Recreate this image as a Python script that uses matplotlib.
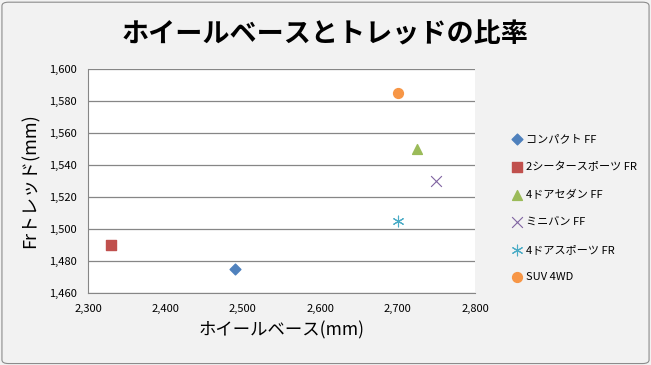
import matplotlib.pyplot as plt
from matplotlib.patches import FancyBboxPatch

plt.rcParams['font.family'] = ['Noto Sans CJK JP', 'DejaVu Sans']

names = ['コンパクト FF', '2シータースポーツ FR', '4ドアセダン FF', 'ミニバン FF', '4ドアスポーツ FR', 'SUV 4WD']
wheelbase = [2490, 2330, 2725, 2750, 2700, 2700]
tread = [1475, 1490, 1550, 1530, 1505, 1585]
markers = ['D', 's', '^', 'x', '*', 'o']
colors = ['#4F81BD', '#C0504D', '#9BBB59', '#8064A2', '#4BACC6', '#F79646']
sizes = [30, 55, 50, 60, 60, 50]

fig = plt.figure(figsize=(6.51, 3.65), dpi=100)
fig.patch.set_facecolor('#F2F2F2')
fig.patches.append(FancyBboxPatch((0.003, 0.004), 0.994, 0.99, boxstyle='round,pad=0,rounding_size=0.01',
                                  transform=fig.transFigure, facecolor='none', edgecolor='#8C8C8C', lw=0.8))

ax = fig.add_axes([88 / 651, 1 - 293 / 365, 387 / 651, 224 / 365])
ax.set_facecolor('white')

for n, x, y, m, c, s in zip(names, wheelbase, tread, markers, colors, sizes):
    if m in ('x', '*'):
        mm = 'x' if m == 'x' else (6, 2, 0)
        ax.scatter(x, y, marker=mm, s=s, color=c, linewidths=0.8, label=n, zorder=3)
    else:
        ax.scatter(x, y, marker=m, s=s, color=c, label=n, zorder=3)

ax.set_xlim(2300, 2800)
ax.set_ylim(1460, 1600)
ax.set_xticks(range(2300, 2801, 100))
ax.set_yticks(range(1460, 1601, 20))
ax.xaxis.set_major_formatter(plt.FuncFormatter(lambda v, p: f'{int(v):,}'))
ax.yaxis.set_major_formatter(plt.FuncFormatter(lambda v, p: f'{int(v):,}'))
ax.tick_params(labelsize=8, length=0, pad=8)
ax.grid(axis='y', color='#868686', lw=0.9)
ax.set_axisbelow(True)
for s in ['top', 'right']:
    ax.spines[s].set_visible(False)
for s in ['left', 'bottom']:
    ax.spines[s].set_color('#868686')

ax.set_xlabel('ホイールベース(mm)', fontsize=12.5, labelpad=5)
ax.set_ylabel('Frトレッド(mm)', fontsize=13, labelpad=7)

fig.text(0.5, 0.905, 'ホイールベースとトレッドの比率', ha='center', va='center', fontsize=19.5, fontweight='bold')

fig.legend(loc='upper left', bbox_to_anchor=(500 / 651, 1 - 124 / 365), frameon=False,
           fontsize=8, labelspacing=1.58, handletextpad=0.2, handlelength=1.2)

fig.savefig('out.png', dpi=100, facecolor=fig.get_facecolor())
